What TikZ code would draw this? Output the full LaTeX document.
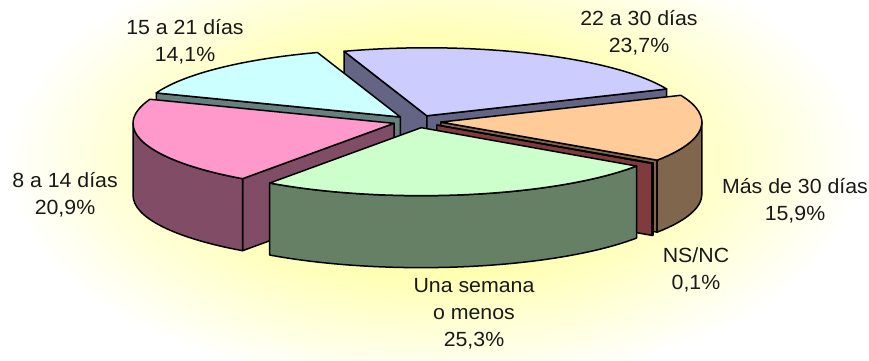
\documentclass[tikz,border=0pt]{standalone}
\usepackage{fontspec}
\setmainfont{Liberation Sans}[FakeStretch=1.04]
\usepackage{tikz}

\definecolor{lavtopc}{HTML}{CCCCFF}
\definecolor{lavsidec}{HTML}{646484}
\definecolor{cyatopc}{HTML}{CCFFFF}
\definecolor{cyasidec}{HTML}{668080}
\definecolor{oratopc}{HTML}{FFCC99}
\definecolor{orasidec}{HTML}{80664C}
\definecolor{nstopc}{HTML}{993333}
\definecolor{nssidec}{HTML}{803C3C}
\definecolor{gretopc}{HTML}{CCFFCC}
\definecolor{gresidec}{HTML}{668066}
\definecolor{pintopc}{HTML}{FF99CC}
\definecolor{pinsidec}{HTML}{804C66}
\definecolor{bgcore}{HTML}{FFFF66}

\begin{document}
\begin{tikzpicture}[x=1pt, y=1pt,
    facet/.style={draw=black, line width=1.5pt, line join=round},
    lavtop/.style={facet, fill=lavtopc}, lavside/.style={facet, fill=lavsidec},
    cyatop/.style={facet, fill=cyatopc}, cyaside/.style={facet, fill=cyasidec},
    oratop/.style={facet, fill=oratopc}, oraside/.style={facet, fill=orasidec},
    nstop/.style={facet, fill=nstopc}, nsside/.style={facet, fill=nssidec},
    gretop/.style={facet, fill=gretopc}, greside/.style={facet, fill=gresidec},
    pintop/.style={facet, fill=pintopc}, pinside/.style={facet, fill=pinsidec},
    pielabel/.style={align=center, anchor=base, inner sep=0pt, text=black!90, font=\fontsize{20.5}{27}\selectfont}]

    \useasboundingbox (0,0) rectangle (869,360);
    \begin{scope}
      \clip (0,0) rectangle (869,360);
      \fill [white] (0,0) rectangle (869,360);
      \shade [inner color=bgcore, outer color=white] (434,200) ellipse [x radius=430, y radius=230];
    \end{scope}

    \begin{scope}[shift={(417,238.5)}]

      \begin{scope}[shift={(65.85:24pt and 6.25pt)}]
        \draw [lavside] (0,0) -- (108.5:261pt and 68pt) -- ++(0,-72) -- (0,-72) -- cycle;
        \draw [lavside] (0,0) -- (23.2:261pt and 68pt) -- ++(0,-72) -- (0,-72) -- cycle;
        \draw [lavtop] (0,0) -- (108.5:261pt and 68pt) arc [start angle=108.5, end angle=23.2, x radius=261pt, y radius=68pt] -- cycle;
      \end{scope}

      \begin{scope}[shift={(133.9:24pt and 6.25pt)}]
        \draw [cyaside] (0,0) -- (159.28:261pt and 68pt) -- ++(0,-72) -- (0,-72) -- cycle;
        \draw [cyatop] (0,0) -- (159.28:261pt and 68pt) arc [start angle=159.28, end angle=108.52, x radius=261pt, y radius=68pt] -- cycle;
      \end{scope}

      \begin{scope}[shift={(-5.42:24pt and 6.25pt)}]
        \draw [oraside] (0,0) -- (-34.04:261pt and 68pt) -- ++(0,-72) -- (0,-72) -- cycle;
        \draw [oraside] (-34.04:261pt and 68pt) arc [start angle=-34.04, end angle=0, x radius=261pt, y radius=68pt] -- ++(0,-72) arc [start angle=0, end angle=-34.04, x radius=261pt, y radius=68pt] -- cycle;
        \draw [oratop] (0,0) -- (23.2:261pt and 68pt) arc [start angle=23.2, end angle=-34.04, x radius=261pt, y radius=68pt] -- cycle;
      \end{scope}

      \begin{scope}[shift={(-163.1:24pt and 6.25pt)}]
        \draw [pinside] (0,0) -- (-125.48:261pt and 68pt) -- ++(0,-72) -- (0,-72) -- cycle;
        \draw [pinside] (-180:261pt and 68pt) arc [start angle=-180, end angle=-125.48, x radius=261pt, y radius=68pt] -- ++(0,-72) arc [start angle=-125.48, end angle=-180, x radius=261pt, y radius=68pt] -- cycle;
        \draw [pintop] (0,0) -- (-125.48:261pt and 68pt) arc [start angle=-125.48, end angle=-200.72, x radius=261pt, y radius=68pt] -- cycle;
      \end{scope}

      \begin{scope}[shift={(-34.22:24pt and 6.25pt)}]
        \draw [nsside] (0,0) -- (-34.4:261pt and 68pt) -- ++(0,-72) -- (0,-72) -- cycle;
        \draw [nsside] (-34.4:261pt and 68pt) arc [start angle=-34.4, end angle=-34.04, x radius=261pt, y radius=68pt] -- ++(0,-72) arc [start angle=-34.04, end angle=-34.4, x radius=261pt, y radius=68pt] -- cycle;
        \draw [nstop] (0,0) -- (-34.04:261pt and 68pt) arc [start angle=-34.04, end angle=-34.4, x radius=261pt, y radius=68pt] -- cycle;
      \end{scope}

      \begin{scope}[shift={(-79.94:24pt and 6.25pt)}]
        \draw [greside] (-125.48:261pt and 68pt) arc [start angle=-125.48, end angle=-34.4, x radius=261pt, y radius=68pt] -- ++(0,-72) arc [start angle=-34.4, end angle=-125.48, x radius=261pt, y radius=68pt] -- cycle;
        \draw [gretop] (0,0) -- (-34.4:261pt and 68pt) arc [start angle=-34.4, end angle=-125.48, x radius=261pt, y radius=68pt] -- cycle;
      \end{scope}

    \end{scope}

    \node [pielabel] (lab22) at (639, 307.3) {22 a 30 días\\23,7\%};
    \node [pielabel] (lab15) at (185, 298.3) {15 a 21 días\\14,1\%};
    \node [pielabel] (lab8) at (65, 146) {8 a 14 días\\20,9\%};
    \node [pielabel] (labmas) at (795, 139.3) {Más de 30 días\\15,9\%};
    \node [pielabel] (labns) at (696, 71) {NS/NC\\0,1\%};
    \node [pielabel] (labuna) at (474, 14) {Una semana\\o menos\\25,3\%};

  \end{tikzpicture}
\end{document}
